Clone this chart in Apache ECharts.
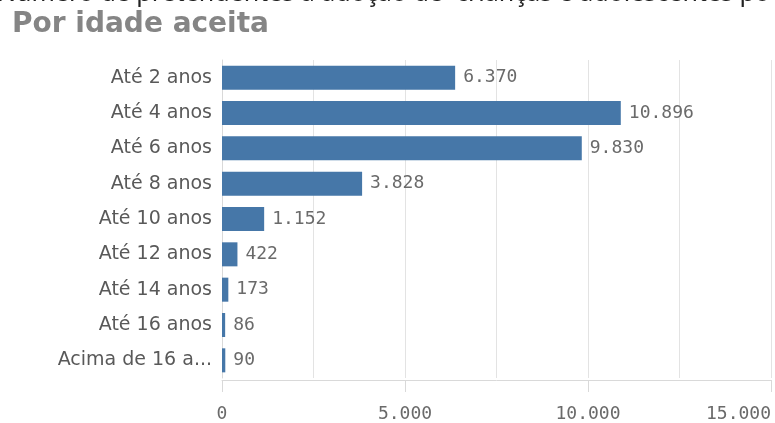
<!DOCTYPE html>
<html>
<head>
<meta charset="utf-8">
<script src="https://cdn.jsdelivr.net/npm/echarts@6/dist/echarts.min.js"></script>
<style>
  html, body { margin: 0; padding: 0; background: #fff; }
  #chart { width: 775px; height: 423px; }
</style>
</head>
<body>
<div id="chart"></div>
<script>
  // faixas de idade aceitas
  var categories = ['Até 2 anos', 'Até 4 anos', 'Até 6 anos', 'Até 8 anos', 'Até 10 anos',
                    'Até 12 anos', 'Até 14 anos', 'Até 16 anos', 'Acima de 16 anos'];
  var pretendentes = [6370, 10896, 9830, 3828, 1152, 422, 173, 86, 90];
  var xTicks = [0, 5000, 10000, 15000];

  var topTitle = 'Número de pretendentes à adoção de  crianças e adolescentes po';
  var subTitle = 'Por idade aceita';

  function fmt(v) {
    return String(v).replace(/\B(?=(\d{3})+(?!\d))/g, '.');
  }

  var option = {
    animation: false,
    graphic: [
      {
        type: 'text', left: -3, top: -19,
        style: { text: topTitle, font: '25px "Noto Sans"', fill: '#222' }
      },
      {
        type: 'text', left: 12, top: 11,
        style: { text: subTitle, font: 'bold 28px "DejaVu Sans"', fill: '#858585' }
      }
    ],
    grid: { left: 222, right: 4, top: 60, bottom: 45 },
    xAxis: {
      type: 'value',
      min: xTicks[0],
      max: xTicks[xTicks.length - 1],
      interval: 5000,
      offset: 2,
      axisLine: { show: true, lineStyle: { color: '#d9d9d9', width: 1 } },
      axisTick: { show: true, length: 12, lineStyle: { color: '#d9d9d9' } },
      splitLine: { show: true, lineStyle: { color: '#e3e3e3' } },
      minorTick: { show: false, splitNumber: 2 },
      minorSplitLine: { show: true, lineStyle: { color: '#e3e3e3' } },
      axisLabel: {
        margin: 25,
        alignMaxLabel: 'right',
        fontFamily: '"DejaVu Sans Mono"',
        fontSize: 18,
        color: '#6a6a6a',
        formatter: fmt
      }
    },
    yAxis: {
      type: 'category',
      data: categories,
      inverse: true,
      axisLine: { show: true, lineStyle: { color: '#d9d9d9' } },
      axisTick: { show: false },
      axisLabel: {
        margin: 10,
        width: 158,
        overflow: 'truncate',
        ellipsis: '...',
        fontFamily: '"DejaVu Sans"',
        fontSize: 19,
        color: '#595959'
      }
    },
    series: [{
      type: 'bar',
      data: pretendentes,
      barCategoryGap: '32%',
      itemStyle: { color: '#4677a8' },
      label: {
        show: true,
        position: 'right',
        distance: 8,
        fontFamily: '"DejaVu Sans Mono"',
        fontSize: 18,
        color: '#6a6a6a',
        formatter: function (p) { return fmt(p.value); }
      }
    }]
  };

  var chart = echarts.init(document.getElementById('chart'));
  chart.setOption(option);
</script>
</body>
</html>
